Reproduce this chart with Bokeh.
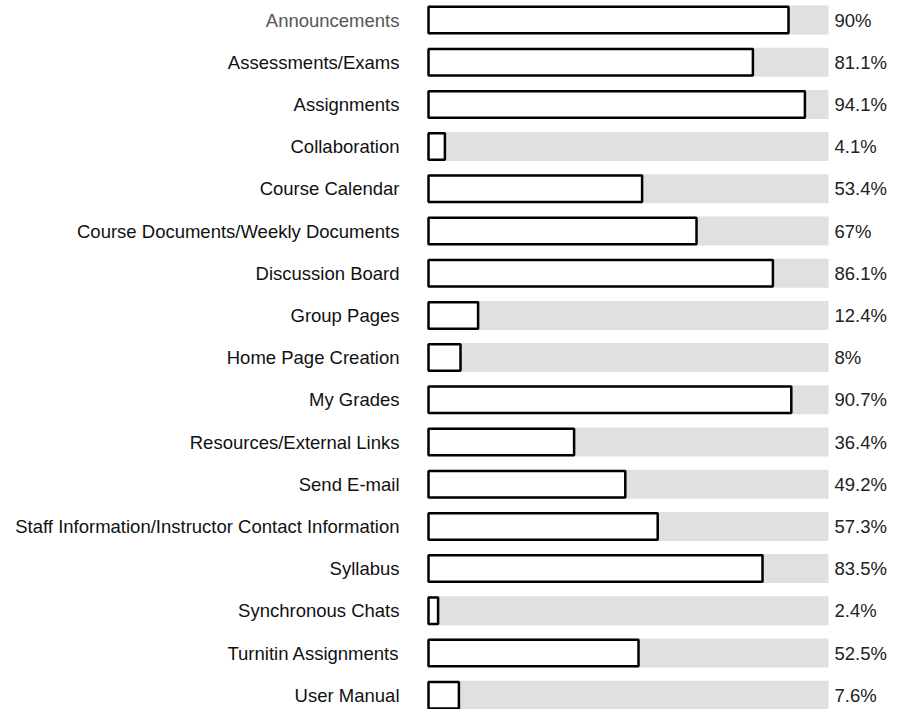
from bokeh.plotting import figure
from bokeh.models import Range1d, ColumnDataSource
from bokeh.core.properties import value
from bokeh.embed import file_html
from bokeh.resources import INLINE

categories = [
    "Announcements", "Assessments/Exams", "Assignments", "Collaboration",
    "Course Calendar", "Course Documents/Weekly Documents", "Discussion Board",
    "Group Pages", "Home Page Creation", "My Grades", "Resources/External Links",
    "Send E-mail", "Staff Information/Instructor Contact Information", "Syllabus",
    "Synchronous Chats", "Turnitin Assignments", "User Manual",
]
values = [90, 81.1, 94.1, 4.1, 53.4, 67, 86.1, 12.4, 8, 90.7, 36.4, 49.2, 57.3, 83.5, 2.4, 52.5, 7.6]
value_labels = [f"{v:g}%" for v in values]
label_colors = ["#555555"] + ["#111111"] * (len(categories) - 1)

W, H = 890, 709
x0_px = 428.0      # frame pixel of 0%
scale = 4.0        # px per percent
row0_px = 19.5
row_step = 42.2

label_x = (399 - x0_px) / scale
value_x = (834 - x0_px) / scale

rows = list(range(len(categories)))
src = ColumnDataSource(dict(
    y=rows, v=values, full=[100] * len(rows), cat=categories,
    vlab=value_labels, lc=label_colors,
    lx=[label_x] * len(rows), vx=[value_x] * len(rows),
))

p = figure(width=W, height=H, output_backend="svg", toolbar_location=None,
           x_range=Range1d(-x0_px / scale, (W - x0_px) / scale),
           y_range=Range1d((H - row0_px) / row_step, -row0_px / row_step),
           min_border=0, min_border_left=0, min_border_right=0,
           min_border_top=0, min_border_bottom=0)
p.xaxis.visible = False
p.yaxis.visible = False
p.grid.visible = False
p.outline_line_color = None
p.background_fill_color = "white"

p.hbar(y="y", left=0, right="full", height=29 / row_step, source=src,
       fill_color="#e0e0e0", line_color=None)
p.hbar(y="y", left=0, right="v", height=26.5 / row_step, source=src,
       fill_color="white", line_color="black", line_width=2.5)

p.text(x="lx", y="y", text="cat", source=src, text_align="right",
       text_baseline="middle", text_font=value("Liberation Sans"),
       text_font_size="18.5px", text_color="lc")
p.text(x="vx", y="y", text="vlab", source=src, text_align="left",
       text_baseline="middle", text_font=value("Liberation Sans"),
       text_font_size="18.5px", text_color="#222222")

open("out.html", "w").write(file_html(p, INLINE))
